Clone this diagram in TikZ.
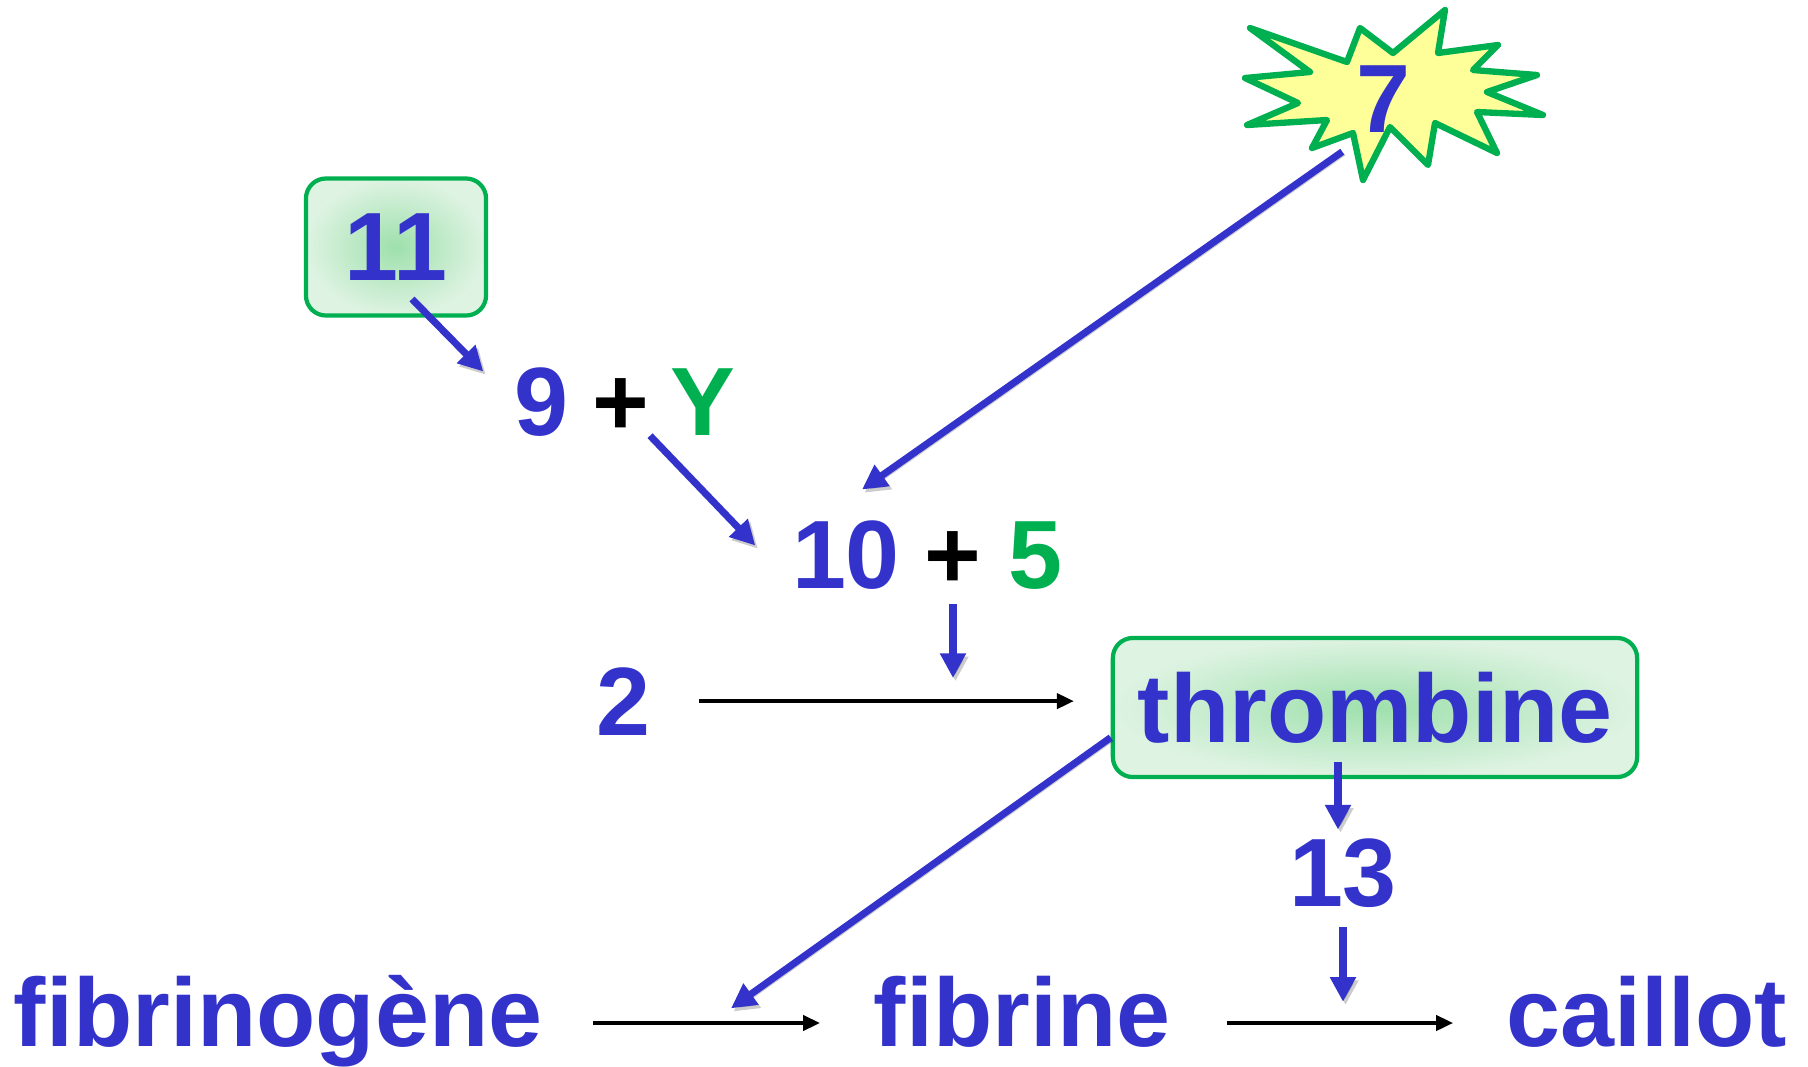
\documentclass[tikz,border=0pt]{standalone}
\usepackage{fontspec}
\setmainfont{Liberation Sans}
\usetikzlibrary{arrows.meta}

\definecolor{protblue}{RGB}{51,51,204}
\definecolor{cofgreen}{RGB}{0,176,80}
\definecolor{burstyellow}{RGB}{255,255,153}
\definecolor{boxmid}{RGB}{158,224,172}
\definecolor{boxedge}{RGB}{222,243,226}

\newcommand{\bigtxt}{\bfseries\fontsize{27.6}{30}\selectfont}

\tikzset{
	lbl/.style={inner sep=0, anchor=base, text=protblue, font=\bigtxt},
	cof/.style={lbl, text=cofgreen},
	plussign/.style={lbl, text=black},
	factorbox/.style={draw=cofgreen, line width=1.2pt, rounded corners=0.2cm,
		inner color=boxmid, outer color=boxedge, text=protblue, font=\bigtxt, inner sep=0},
	burst/.style={draw=cofgreen, fill=burstyellow, line width=1.8pt, line join=round},
	arrowshadow/.style={preaction={draw=black, opacity=.2,
		transform canvas={shift={(0.7pt,-0.9pt)}}}},
	bluearrow/.style={arrowshadow, draw=protblue, line width=2pt,
		-{Triangle[length=7pt,width=7pt]}},
	blackarrow/.style={draw=black, line width=1pt, -{Triangle[length=4.8pt,width=4.3pt]}},
}

\begin{document}
\begin{tikzpicture}[x=0.01cm, y=-0.01cm]
	\useasboundingbox (0,0) rectangle (1808,1066);

	% factor 7 in its burst
	\draw[burst] (1250,28) -- (1347,62) -- (1360,28) -- (1393,53) -- (1445,10)
		-- (1438,53) -- (1498,45) -- (1473,70) -- (1537,75) -- (1487,92)
		-- (1543,115) -- (1477,112) -- (1497,153) -- (1435,123) -- (1428,165)
		-- (1390,127) -- (1363,180) -- (1353,133) -- (1312,148) -- (1327,120)
		-- (1247,125) -- (1298,103) -- (1245,78) -- (1310,72) -- cycle;
	\node[lbl] (n7) at (1383,132) {7};

	\node[factorbox, minimum width=1.8cm, minimum height=1.37cm] (box11) at (396,247) {11};

	\node[lbl]      (n9)    at (541,435) {9};
	\node[plussign] (plusA) at (621,435) {+};
	\node[cof]      (nY)    at (703,435) {Y};

	\node[lbl]      (n10)   at (846,588) {10};
	\node[plussign] (plusB) at (953,588) {+};
	\node[cof]      (n5)    at (1035,588) {5};

	\node[lbl] (n2) at (623,735) {2};
	\node[factorbox, minimum width=5.24cm, minimum height=1.39cm] (nThr) at (1375,707.5) {thrombine};

	\node[lbl] (n13) at (1343,906) {13};

	\node[lbl] (nFib)     at (278,1046)  {fibrinogène};
	\node[lbl] (nFibrine) at (1022,1046) {fibrine};
	\node[lbl] (nCaillot) at (1647,1046) {caillot};

	\path ([shift={(16,52)}]box11.center) edge[bluearrow] ([shift={(-30,5)}]n9.north west);
	\path (plusA.south east) edge[bluearrow] ([shift={(-36,26)}]n10.north west);
	\path ([shift={(-13,19)}]n7.south west) edge[bluearrow] ([shift={(16,-30)}]n10.north);
	\path ([shift={(0,16)}]plusB.base) edge[bluearrow] ([shift={(0,90)}]plusB.base);
	\path (n2.east) edge[blackarrow, shorten <=13.7pt, shorten >=10.5pt] (n2.east -| nThr.west);
	\path ([shift={(-37,-17)}]nThr.south) edge[bluearrow] ([shift={(-5,-8)}]n13.north);
	\path ([shift={(0,19)}]n13.south) edge[bluearrow] ([shift={(0,94)}]n13.south);
	\path ([shift={(0,30)}]nThr.west) edge[bluearrow] ([shift={(-142,-3)}]nFibrine.west);
	\path ([shift={(50,-23)}]nFib.base east) edge[blackarrow] ([shift={(-53,-23)}]nFibrine.base west);
	\path ([shift={(56,-23)}]nFibrine.base east) edge[blackarrow] ([shift={(-53,-23)}]nCaillot.base west);

\end{tikzpicture}
\end{document}
